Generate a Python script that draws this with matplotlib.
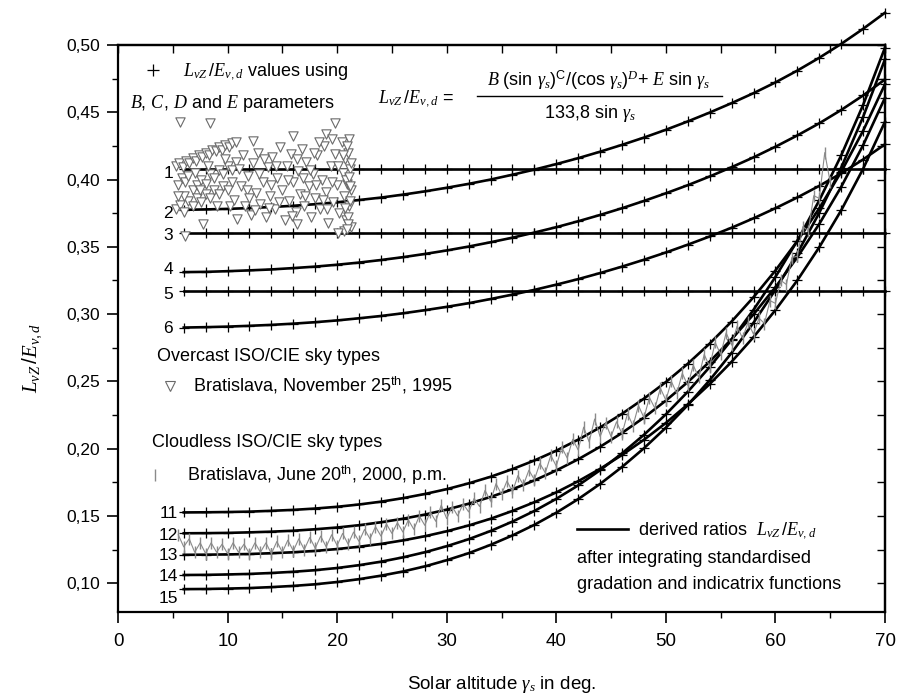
import matplotlib
matplotlib.use("Agg")
import matplotlib.pyplot as plt
from matplotlib import font_manager as fm
from matplotlib.lines import Line2D

# ---------------- data ----------------
altitude = [6, 8, 10, 12, 14, 16, 18, 20, 22, 24, 26, 28, 30, 32, 34, 36, 38,
            40, 42, 44, 46, 48, 50, 52, 54, 56, 58, 60, 62, 64, 66, 68, 70]

type1 = [0.408] * 33  # constant ratio
type3 = [0.360] * 33
type5 = [0.317] * 33
type2 = [0.3775, 0.3778, 0.3782, 0.3788, 0.3796, 0.3805, 0.3817, 0.3831, 0.3848,
         0.3866, 0.3888, 0.3912, 0.3939, 0.3968, 0.4000, 0.4036, 0.4074, 0.4115,
         0.4159, 0.4207, 0.4258, 0.4312, 0.4370, 0.4432, 0.4498, 0.4568, 0.4642,
         0.4722, 0.4810, 0.4905, 0.5008, 0.5120, 0.5240]
type4 = [0.3312, 0.3314, 0.3319, 0.3325, 0.3332, 0.3342, 0.3353, 0.3367, 0.3383,
         0.3402, 0.3423, 0.3447, 0.3473, 0.3502, 0.3534, 0.3568, 0.3606, 0.3646,
         0.3690, 0.3737, 0.3787, 0.3841, 0.3898, 0.3958, 0.4023, 0.4092, 0.4165,
         0.4244, 0.4328, 0.4418, 0.4517, 0.4625, 0.4744]
type6 = [0.2900, 0.2903, 0.2907, 0.2913, 0.2920, 0.2929, 0.2940, 0.2953, 0.2969,
         0.2986, 0.3006, 0.3029, 0.3054, 0.3081, 0.3112, 0.3145, 0.3180, 0.3219,
         0.3260, 0.3305, 0.3353, 0.3404, 0.3458, 0.3516, 0.3577, 0.3642, 0.3712,
         0.3787, 0.3867, 0.3953, 0.4046, 0.4149, 0.4262]
type11 = [0.1526, 0.1527, 0.1529, 0.1532, 0.1538, 0.1545, 0.1555, 0.1568, 0.1585,
          0.1606, 0.1632, 0.1663, 0.1699, 0.1742, 0.1791, 0.1848, 0.1912, 0.1985,
          0.2067, 0.2158, 0.2259, 0.2372, 0.2495, 0.2631, 0.2781, 0.2945, 0.3126,
          0.3324, 0.3543, 0.3786, 0.4057, 0.4362, 0.4709]
type12 = [0.1371, 0.1372, 0.1374, 0.1378, 0.1383, 0.1390, 0.1401, 0.1414, 0.1431,
          0.1453, 0.1479, 0.1510, 0.1547, 0.1591, 0.1641, 0.1698, 0.1764, 0.1838,
          0.1921, 0.2014, 0.2117, 0.2231, 0.2357, 0.2495, 0.2647, 0.2814, 0.2998,
          0.3200, 0.3423, 0.3670, 0.3945, 0.4255, 0.4608]
type13 = [0.1211, 0.1212, 0.1214, 0.1217, 0.1223, 0.1230, 0.1240, 0.1254, 0.1271,
          0.1292, 0.1318, 0.1349, 0.1386, 0.1429, 0.1479, 0.1537, 0.1602, 0.1675,
          0.1758, 0.1850, 0.1953, 0.2066, 0.2191, 0.2329, 0.2480, 0.2646, 0.2829,
          0.3030, 0.3251, 0.3497, 0.3771, 0.4079, 0.4430]
type14 = [0.1061, 0.1062, 0.1065, 0.1069, 0.1076, 0.1085, 0.1097, 0.1113, 0.1134,
          0.1160, 0.1192, 0.1230, 0.1275, 0.1327, 0.1388, 0.1458, 0.1537, 0.1627,
          0.1727, 0.1840, 0.1965, 0.2103, 0.2255, 0.2423, 0.2607, 0.2809, 0.3032,
          0.3276, 0.3546, 0.3845, 0.4179, 0.4554, 0.4981]
type15 = [0.0956, 0.0957, 0.0960, 0.0964, 0.0971, 0.0980, 0.0992, 0.1009, 0.1030,
          0.1056, 0.1087, 0.1125, 0.1171, 0.1223, 0.1285, 0.1355, 0.1434, 0.1524,
          0.1625, 0.1738, 0.1864, 0.2003, 0.2156, 0.2324, 0.2509, 0.2712, 0.2936,
          0.3181, 0.3452, 0.3753, 0.4088, 0.4465, 0.4894]

# Bratislava, November 25th 1995 (overcast measurements)
nov_x_a = [5.3, 5.6, 5.9, 6.2, 6.5, 6.8, 7.1, 7.4, 7.7, 8.0, 8.3, 8.6, 8.9, 9.2, 9.5, 9.8, 10.1, 10.4, 10.8]
nov_y_a = [0.410, 0.412, 0.409, 0.414, 0.412, 0.416, 0.414, 0.418, 0.417, 0.420, 0.418, 0.422, 0.421, 0.424,
           0.422, 0.426, 0.424, 0.427, 0.428]
nov_x_b = [5.5, 5.8, 6.1, 6.4, 6.8, 7.2, 7.6, 8.0, 8.4, 8.8, 9.2, 9.6, 10.0, 10.4, 10.8]
nov_y_b = [0.396, 0.401, 0.398, 0.403, 0.392, 0.396, 0.400, 0.397, 0.404, 0.401, 0.407, 0.404, 0.410, 0.407, 0.413]
nov_x_c = [5.3, 5.7, 6.0, 6.4, 6.8, 7.2, 7.6, 8.0, 8.4, 8.8, 9.2, 9.6, 10.0, 10.4,
           6.0, 7.0, 8.2, 9.0, 9.8, 10.2, 7.5, 5.5]
nov_y_c = [0.378, 0.381, 0.376, 0.384, 0.380, 0.386, 0.383, 0.389, 0.386, 0.392, 0.389, 0.395, 0.392, 0.398,
           0.388, 0.405, 0.410, 0.380, 0.415, 0.380, 0.392, 0.388]
nov_x_d = [10.6, 10.9, 11.2, 11.4, 11.6, 11.9, 12.1, 12.3, 12.6, 12.8, 13.0, 13.2, 13.5, 13.7, 13.9,
           14.1, 14.3, 14.5, 14.8, 15.0, 15.2, 15.4, 15.6, 15.8, 16.0, 16.2, 16.4, 16.6, 16.8, 17.0,
           17.2, 17.4, 17.6, 17.8, 18.0, 18.2, 18.4, 18.6, 18.8, 19.0, 19.2, 19.4, 19.6, 19.8, 20.0,
           20.2, 20.4, 20.5, 20.6, 20.7, 20.8, 20.9, 21.0, 21.1, 21.2, 21.3, 21.3, 21.1, 20.6]
nov_y_d = [0.385, 0.371, 0.395, 0.418, 0.380, 0.403, 0.374, 0.412, 0.390, 0.420, 0.382, 0.398, 0.372, 0.409,
           0.388, 0.417, 0.378, 0.401, 0.424, 0.392, 0.370, 0.410, 0.384, 0.419, 0.398, 0.376, 0.406, 0.389,
           0.423, 0.380, 0.413, 0.395, 0.372, 0.404, 0.386, 0.418, 0.378, 0.400, 0.425, 0.391, 0.368, 0.410,
           0.383, 0.419, 0.396, 0.375, 0.428, 0.405, 0.388, 0.415, 0.370, 0.397, 0.420, 0.380, 0.408, 0.392,
           0.365, 0.430, 0.362]
nov_x_e = [11.0, 11.8, 12.5, 13.3, 14.0, 14.7, 15.5, 16.3, 17.1, 17.9, 18.7, 19.5, 20.1, 12.0, 13.8, 15.9,
           17.5, 19.1, 18.1, 16.9, 14.4, 12.9, 21.0, 21.2, 20.8, 21.3, 20.9, 21.1, 20.7, 21.2, 21.0, 20.5]
nov_y_e = [0.408, 0.392, 0.377, 0.415, 0.396, 0.383, 0.400, 0.415, 0.388, 0.420, 0.385, 0.398, 0.410, 0.386,
           0.379, 0.373, 0.407, 0.378, 0.396, 0.401, 0.410, 0.404, 0.372, 0.384, 0.400, 0.412, 0.425, 0.402,
           0.379, 0.395, 0.367, 0.418]
nov_x_out = [5.7, 8.4, 12.3, 16.0, 19.8, 19.0, 6.1, 7.8, 16.3, 20.1, 20.9, 19.5, 18.3]
nov_y_out = [0.443, 0.442, 0.429, 0.432, 0.442, 0.434, 0.358, 0.367, 0.367, 0.360, 0.363, 0.430, 0.428]

# Bratislava, June 20th 2000 p.m. (cloudless measurements)
jun_x = [5.5, 6.0, 6.5, 7.0, 7.5, 8.0, 8.5, 9.0, 9.5, 10.0,
         10.5, 11.0, 11.5, 12.0, 12.5, 13.0, 13.5, 14.0, 14.5, 15.0,
         15.5, 16.0, 16.5, 17.0, 17.5, 18.0, 18.5, 19.0, 19.5, 20.0,
         20.5, 21.0, 21.5, 22.0, 22.5, 23.0, 23.5, 24.0, 24.5, 25.0,
         25.5, 26.0, 26.5, 27.0, 27.5, 28.0, 28.5, 29.0, 29.5, 30.0,
         30.5, 31.0, 31.5, 32.0, 32.5, 33.0, 33.5, 34.0, 34.5, 35.0,
         35.5, 36.0, 36.5, 37.0, 37.5, 38.0, 38.5, 39.0, 39.5, 40.0,
         40.5, 41.0, 41.5, 42.0, 42.5, 43.0, 43.5, 44.0, 44.5, 45.0,
         45.5, 46.0, 46.5, 47.0, 47.5, 48.0, 48.5, 49.0, 49.5, 50.0,
         50.5, 51.0, 51.5, 52.0, 52.5, 53.0, 53.5, 54.0, 54.5, 55.0,
         55.5, 56.0, 56.5, 57.0, 57.5, 58.0, 58.5, 59.0, 59.5, 60.0,
         60.5, 61.0, 61.5, 62.0, 62.5, 63.0, 63.5, 64.0, 64.5, 65.0]
jun_y = [0.136, 0.127, 0.133, 0.123, 0.130, 0.122, 0.130, 0.123, 0.129, 0.122,
         0.130, 0.123, 0.129, 0.122, 0.130, 0.123, 0.130, 0.122, 0.131, 0.123,
         0.132, 0.124, 0.133, 0.125, 0.134, 0.126, 0.135, 0.127, 0.136, 0.128,
         0.137, 0.129, 0.138, 0.131, 0.140, 0.133, 0.142, 0.135, 0.144, 0.137,
         0.145, 0.138, 0.147, 0.140, 0.150, 0.143, 0.153, 0.146, 0.158, 0.148,
         0.157, 0.150, 0.159, 0.153, 0.163, 0.157, 0.169, 0.161, 0.174, 0.166,
         0.176, 0.168, 0.180, 0.173, 0.184, 0.177, 0.189, 0.182, 0.195, 0.187,
         0.201, 0.193, 0.207, 0.199, 0.216, 0.205, 0.222, 0.209, 0.219, 0.209,
         0.220, 0.211, 0.226, 0.217, 0.232, 0.223, 0.238, 0.230, 0.245, 0.236,
         0.250, 0.241, 0.256, 0.247, 0.262, 0.253, 0.270, 0.261, 0.279, 0.270,
         0.286, 0.277, 0.291, 0.282, 0.294, 0.285, 0.297, 0.293, 0.310, 0.308,
         0.325, 0.322, 0.342, 0.343, 0.365, 0.362, 0.388, 0.386, 0.420, 0.398]

x_ticks = [0, 10, 20, 30, 40, 50, 60, 70]
x_minor = [5, 15, 25, 35, 45, 55, 65]
y_ticks = [0.10, 0.15, 0.20, 0.25, 0.30, 0.35, 0.40, 0.45, 0.50]
y_tick_labels = ["0,10", "0,15", "0,20", "0,25", "0,30", "0,35", "0,40", "0,45", "0,50"]
y_minor = [0.125, 0.175, 0.225, 0.275, 0.325, 0.375, 0.425, 0.475]
right_ticks = [0.100, 0.125, 0.150, 0.175, 0.200, 0.225, 0.250, 0.275, 0.300, 0.325,
               0.350, 0.375, 0.400, 0.425, 0.450, 0.475, 0.500]
top_ticks = [0, 5, 10, 15, 20, 25, 30, 35, 40, 45, 50, 55, 60, 65, 70]

overcast = [("1", type1, 172), ("2", type2, 212), ("3", type3, 234),
            ("4", type4, 268), ("5", type5, 293), ("6", type6, 327)]
cloudless = [("11", type11, 512), ("12", type12, 534), ("13", type13, 554),
             ("14", type14, 575), ("15", type15, 597)]

# ---------------- style ----------------
names = {f.name for f in fm.fontManager.ttflist}
SANS = "Liberation Sans" if "Liberation Sans" in names else "DejaVu Sans"
NARROW = "Liberation Sans Narrow" if "Liberation Sans Narrow" in names else SANS
SERIF = "Liberation Serif" if "Liberation Serif" in names else "DejaVu Serif"

plt.rcParams["font.family"] = [SANS, "DejaVu Sans"]
plt.rcParams["mathtext.fontset"] = "custom"
plt.rcParams["mathtext.rm"] = SANS
plt.rcParams["mathtext.it"] = SERIF + ":italic"
plt.rcParams["mathtext.bf"] = SANS + ":bold"

W, H = 897, 700
fig = plt.figure(figsize=(W / 100, H / 100), dpi=100)


def P(x, y):
    return (x / W, 1 - y / H)


ax = fig.add_axes([118 / W, 1 - 612 / H, 767 / W, 567 / H])
ax.set_xlim(0, 70)
ax.set_ylim(0.0786, 0.50)

LINE = dict(color="black", lw=1.9, marker="+", ms=7, mew=0.9, clip_on=False, zorder=3)
for _, vals, _ in overcast + cloudless:
    ax.plot(altitude, vals, **LINE)

tri_x = nov_x_a + nov_x_b + nov_x_c + nov_x_d + nov_x_e + nov_x_out
tri_y = nov_y_a + nov_y_b + nov_y_c + nov_y_d + nov_y_e + nov_y_out
ax.scatter(tri_x, tri_y, marker="v", s=45, facecolors="white",
           edgecolors="#6a6a6a", linewidths=0.8, zorder=4)

ax.plot(jun_x, jun_y, color="#8a8a8a", lw=0.8, marker="|", ms=8, mew=1.0, zorder=5)

# ticks
ax.set_xticks(x_ticks)
ax.set_xticks(x_minor, minor=True)
ax.set_yticks(y_ticks)
ax.set_yticklabels(y_tick_labels)
ax.set_yticks(y_minor, minor=True)
ax.tick_params(axis="x", which="major", direction="out", length=8, width=1.2, pad=7, labelsize=13.5)
ax.tick_params(axis="x", which="minor", direction="out", length=4.5, width=1.0)
ax.tick_params(axis="y", which="major", direction="out", length=8, width=1.2, pad=5, labelsize=12.5)
ax.tick_params(axis="y", which="minor", direction="out", length=4.5, width=1.0)
for lbl in ax.get_xticklabels():
    lbl.set_fontfamily(NARROW)
for s in ax.spines.values():
    s.set_linewidth(1.6)

sec_top = ax.secondary_xaxis("top")
sec_top.set_xticks(top_ticks)
sec_top.tick_params(direction="in", length=6, width=1.0, labeltop=False)
sec_top.spines["top"].set_linewidth(1.6)
sec_right = ax.secondary_yaxis("right")
sec_right.set_yticks(right_ticks)
sec_right.tick_params(direction="in", length=6, width=1.0, labelright=False)
sec_right.spines["right"].set_linewidth(1.6)

# curve labels
for lab, _, y in overcast:
    fig.text(*P(173, y + 6), lab, ha="right", va="baseline", fontsize=12.5)
for lab, _, y in cloudless:
    fig.text(*P(178, y + 6), lab, ha="right", va="baseline", fontsize=12.5)

LZ = r"$L_{vZ}\,/E_{v,d}$"
FS = 13

# top-left legend
ax.plot([P(153, 70)[0]], [P(153, 70)[1]], transform=fig.transFigure, color="black",
        marker="+", ms=8, mew=0.9, clip_on=False)
fig.text(*P(183, 76), LZ + " values using", ha="left", va="baseline", fontsize=FS)
fig.text(*P(130, 108), r"$B$, $C$, $D$ and $E$ parameters", ha="left", va="baseline", fontsize=FS)

# formula
fig.text(*P(378, 103), LZ + " =", ha="left", va="baseline", fontsize=FS)
fig.text(*P(599, 86), r"$B$ (sin $\gamma_s)^{\mathrm{C}}$/(cos $\gamma_s)^{D}$+ $E$ sin $\gamma_s$",
         ha="center", va="baseline", fontsize=FS)
fig.add_artist(Line2D([P(477, 0)[0], P(722, 0)[0]], [P(0, 96)[1]] * 2, color="black", lw=1.0))
fig.text(*P(590, 118), r"133,8 sin $\gamma_s$", ha="center", va="baseline", fontsize=FS)

# overcast block
fig.text(*P(157, 361), "Overcast ISO/CIE sky types", ha="left", va="baseline", fontsize=FS)
ax.plot([P(170, 386)[0]], [P(170, 386)[1]], transform=fig.transFigure, linestyle="none",
        marker="v", ms=7, mfc="white", mec="#6a6a6a", mew=0.8, clip_on=False)
fig.text(*P(193, 391), r"Bratislava, November 25$^{\mathrm{th}}$, 1995", ha="left", va="baseline", fontsize=FS)

# cloudless block
fig.text(*P(152, 447), "Cloudless ISO/CIE sky types", ha="left", va="baseline", fontsize=FS)
ax.plot([P(155, 475)[0]], [P(155, 475)[1]], transform=fig.transFigure, linestyle="none",
        marker="|", ms=8, mec="#8a8a8a", mew=1.0, clip_on=False)
fig.text(*P(187, 481), r"Bratislava, June 20$^{\mathrm{th}}$, 2000, p.m.", ha="left", va="baseline", fontsize=FS)

# bottom-right legend
fig.add_artist(Line2D([P(577, 0)[0], P(628, 0)[0]], [P(0, 529)[1]] * 2, color="black", lw=1.9))
fig.text(*P(638, 535), "derived ratios  " + LZ, ha="left", va="baseline", fontsize=FS)
fig.text(*P(577, 563), "after integrating standardised", ha="left", va="baseline", fontsize=FS)
fig.text(*P(577, 589), "gradation and indicatrix functions", ha="left", va="baseline", fontsize=FS)

# axis labels
fig.text(*P(502, 689), r"Solar altitude $\gamma_s$ in deg.", ha="center", va="baseline",
         fontsize=13.5, family=NARROW)
fig.text(*P(32, 358), LZ, ha="center", va="center", rotation=90, fontsize=15)

fig.savefig("out.png", dpi=100)
